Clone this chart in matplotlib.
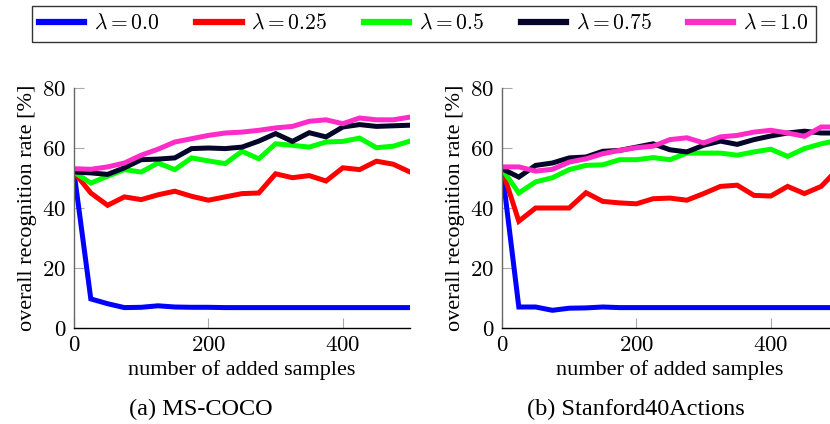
import matplotlib
matplotlib.use("Agg")
import matplotlib.pyplot as plt
from matplotlib.lines import Line2D

plt.rcParams['mathtext.fontset'] = 'cm'
plt.rcParams['font.family'] = 'serif'
plt.rcParams['font.serif'] = ['Liberation Serif', 'DejaVu Serif']

x = list(range(0, 501, 25))
labels = [r'$\lambda = 0.0$', r'$\lambda = 0.25$', r'$\lambda = 0.5$', r'$\lambda = 0.75$', r'$\lambda = 1.0$']
colors = ['#0000ff', '#ff0000', '#00ff00', '#05052a', '#ff2cc8']

coco_l00 = [52, 9.7, 8.1, 6.8, 6.9, 7.4, 7.0, 6.9, 6.9, 6.8, 6.8, 6.8, 6.8, 6.8, 6.8, 6.8, 6.8, 6.8, 6.8, 6.8, 6.8]
coco_l25 = [52, 45, 40.9, 43.7, 42.8, 44.4, 45.6, 43.9, 42.6, 43.7, 44.8, 45, 51.4, 50.1, 50.8, 49, 53.4, 52.8, 55.6, 54.6, 52]
coco_l50 = [52, 48.3, 50.6, 52.8, 52, 55, 52.8, 56.7, 55.7, 54.8, 58.9, 56.4, 61.4, 60.9, 60.3, 62, 62.2, 63.3, 60.1, 60.6, 62.3]
coco_l75 = [52, 51.7, 51.2, 53.4, 56.1, 56.3, 56.7, 59.8, 60, 59.8, 60.3, 62.3, 64.8, 62.2, 65.1, 63.7, 67, 67.8, 67.2, 67.4, 67.6]
coco_l100 = [53.1, 52.9, 53.7, 55, 57.6, 59.6, 62, 63.1, 64.2, 65, 65.3, 65.9, 66.7, 67.2, 68.9, 69.4, 68.1, 70, 69.4, 69.4, 70.3]

stan_l00 = [53, 7, 7, 5.9, 6.6, 6.7, 7, 6.8, 6.8, 6.8, 6.8, 6.8, 6.8, 6.8, 6.8, 6.8, 6.8, 6.8, 6.8, 6.8, 6.8]
stan_l25 = [53, 35.6, 40, 40, 40, 45.1, 42.2, 41.7, 41.4, 43.1, 43.3, 42.6, 44.8, 47.2, 47.6, 44.2, 44, 47.2, 44.8, 47.2, 53]
stan_l50 = [53, 45, 48.7, 50.1, 52.8, 54.2, 54.4, 56.1, 56.1, 56.8, 56.1, 58.3, 58.3, 58.3, 57.6, 58.7, 59.6, 57.2, 59.8, 61.4, 62.6]
stan_l75 = [53.1, 50.3, 54.2, 55, 56.7, 57, 58.9, 59.2, 60.3, 61.4, 59.4, 58.7, 60.9, 62.3, 61.2, 62.8, 64, 65, 65.6, 65, 65]
stan_l100 = [53.7, 53.7, 52.3, 52.9, 55.3, 56.4, 58.1, 59.2, 60.1, 60.6, 62.8, 63.4, 61.7, 63.7, 64.2, 65.3, 65.9, 65, 63.9, 67, 67]

coco = [coco_l00, coco_l25, coco_l50, coco_l75, coco_l100]
stan = [stan_l00, stan_l25, stan_l50, stan_l75, stan_l100]
xticks = [0, 200, 400]
yticks = [0, 20, 40, 60, 80]

fig = plt.figure(figsize=(8.3, 4.24), dpi=100)
W, H = 830, 424

def make_ax(left_px, data, caption, cap_x):
    ax = fig.add_axes([left_px / W, (H - 328) / H, 336 / W, 240 / H])
    for ys, c in zip(data, colors):
        ax.plot(x, ys, color=c, lw=3.6, solid_joinstyle='miter')
    ax.set_xlim(0, 500)
    ax.set_ylim(0, 80)
    ax.set_xticks(xticks)
    ax.set_yticks(yticks)
    ax.set_xticklabels([f'${t}$' for t in xticks], fontsize=16.5)
    ax.set_yticklabels([f'${t}$' for t in yticks], fontsize=16.5)
    ax.tick_params(direction='in', length=7, width=0.8, color='#aaaaaa')
    ax.tick_params(axis='y', pad=5.5)
    ax.tick_params(axis='x', pad=5)
    ax.spines['top'].set_visible(False)
    ax.spines['right'].set_visible(False)
    ax.spines['left'].set_color('#666666')
    ax.spines['left'].set_linewidth(1.0)
    ax.spines['bottom'].set_color('black')
    ax.spines['bottom'].set_linewidth(1.0)
    ax.set_xlabel('number of added samples', fontsize=16, labelpad=3)
    ax.set_ylabel('overall recognition rate [%]', fontsize=16, labelpad=4)
    fig.text(cap_x / W, 1 - 409 / H, caption, fontsize=17.5, ha='center', va='center')
    return ax

make_ax(74, coco, '(a) MS-COCO', 201)
make_ax(502, stan, '(b) Stanford40Actions', 636)

handles = [Line2D([0], [0], color=c, lw=4.5) for c in colors]
leg = fig.legend(handles, labels, loc='center', bbox_to_anchor=(424 / W, 1 - 24 / H),
                 ncol=5, fontsize=15.5, frameon=True, fancybox=False, edgecolor='black',
                 handlelength=2.1, columnspacing=1.7, handletextpad=0.45,
                 borderpad=0.35)
leg.get_frame().set_linewidth(1.0)

fig.savefig('out.png', dpi=100)
